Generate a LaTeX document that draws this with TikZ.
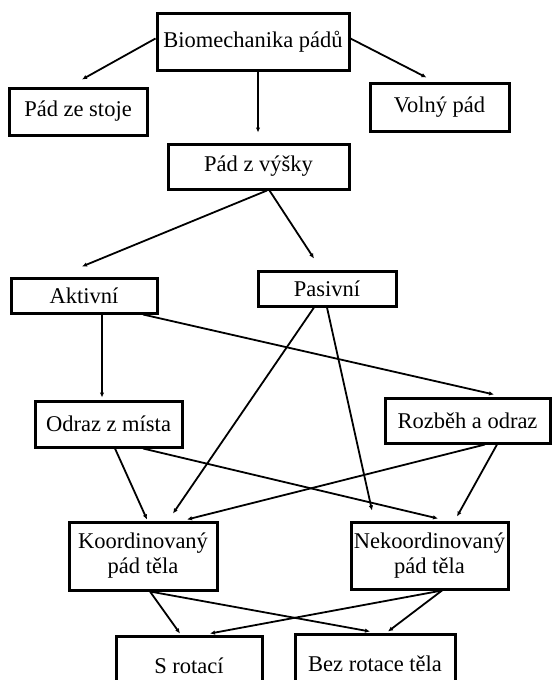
\documentclass[tikz,border=0pt]{standalone}
\usepackage{fontspec}
\setmainfont{Liberation Serif}
\usetikzlibrary{arrows.meta}

\begin{document}
\begin{tikzpicture}[x=1pt, y=-1pt,
	box/.style={draw, line width=3pt, inner sep=2pt, align=center, font=\fontsize{22.5}{25}\selectfont},
	arr/.style={-{Latex[length=5pt,width=4.5pt]}, line width=1.8pt}]
			\begin{scope}
			\clip (0,0) rectangle (552,680);
			
			\node[box, minimum width=192pt, minimum height=57pt] (bio) at (253, 41.5) {Biomechanika pádů};
			\node[box, minimum width=138pt, minimum height=47pt] (stoje) at (78, 111.5) {Pád ze stoje};
			\node[box, minimum width=139pt, minimum height=48pt] (volny) at (439.5, 107) {Volný pád};
			\node[box, minimum width=181pt, minimum height=45pt] (vysky) at (258.5, 166.5) {Pád z výšky};
			
			\node[box, minimum width=146pt, minimum height=35pt] (akt) at (84, 295.5) {Aktivní};
			\node[box, minimum width=138pt, minimum height=35pt] (pas) at (327, 288.5) {Pasivní};
			\node[box, minimum width=147pt, minimum height=46pt] (odraz) at (108.5, 424) {Odraz z místa};
			\node[box, minimum width=165pt, minimum height=45pt] (rozbeh) at (467.5, 420.5) {Rozběh a odraz};
			
			\node[box, minimum width=148pt, minimum height=68pt] (koord) at (143, 556) {Koordinovaný\\pád těla};
			\node[box, minimum width=157pt, minimum height=67pt] (nekoord) at (429.5, 555.5) {Nekoordinovaný\\pád těla};
			\node[box, minimum width=146pt, minimum height=60pt] (srot) at (189, 666) {S rotací};
			\node[box, minimum width=160pt, minimum height=60pt] (bez) at (375, 664) {Bez rotace těla};
			
			\draw[arr] ([yshift=3pt]bio.west) -- ([xshift=4pt,yshift=7pt]stoje.north); % bio -> stoje
			\draw[arr] ([yshift=3pt]bio.east) -- ([xshift=-13pt,yshift=4pt]volny.north); % bio -> volny
			\draw[arr] ([xshift=5pt]bio.south) -- ([xshift=-0.5pt,yshift=10pt]vysky.north); % bio -> vysky
			
			\draw[arr] ([xshift=8.5pt]vysky.south) -- ([xshift=-2pt,yshift=10pt]akt.north); % vysky -> akt
			\draw[arr] ([xshift=11pt]vysky.south) -- ([xshift=-13pt,yshift=11pt]pas.north); % vysky -> pas
			
			\draw[arr] ([xshift=18pt]akt.south) -- ([xshift=-6.5pt,yshift=2pt]odraz.north); % akt -> odraz
			\draw[arr] ([xshift=59pt]akt.south) -- ([xshift=26.5pt,yshift=2pt]rozbeh.north); % akt -> rozbeh
			\draw[arr] ([xshift=-13pt]pas.south) -- ([xshift=30pt,yshift=7pt]koord.north); % pas -> koord
			\draw[arr] (pas.south) -- ([xshift=-57.5pt,yshift=10pt]nekoord.north); % pas -> nekoord
			
			\draw[arr] ([xshift=6.5pt]odraz.south) -- ([xshift=4pt,yshift=1pt]koord.north); % odraz -> koord
			\draw[arr] ([xshift=34.5pt]odraz.south) -- ([xshift=8.5pt,yshift=2pt]nekoord.north); % odraz -> nekoord
			\draw[arr] ([xshift=17.5pt]rozbeh.south) -- ([xshift=44pt,yshift=1pt]koord.north); % rozbeh -> koord
			\draw[arr] ([xshift=29.5pt]rozbeh.south) -- ([xshift=27.5pt,yshift=4pt]nekoord.north); % rozbeh -> nekoord
			
			\draw[arr] ([xshift=7pt]koord.south) -- ([xshift=-9pt,yshift=1pt]srot.north); % koord -> srot
			\draw[arr] ([xshift=7pt]koord.south) -- ([xshift=-5pt,yshift=1pt]bez.north); % koord -> bez
			\draw[arr] ([xshift=12.5pt]nekoord.south) -- ([xshift=21pt,yshift=1pt]srot.north); % nekoord -> srot
			\draw[arr] ([xshift=12.5pt]nekoord.south) -- ([xshift=13pt,yshift=1pt]bez.north); % nekoord -> bez
			
			\end{scope}
\end{tikzpicture}
\end{document}
